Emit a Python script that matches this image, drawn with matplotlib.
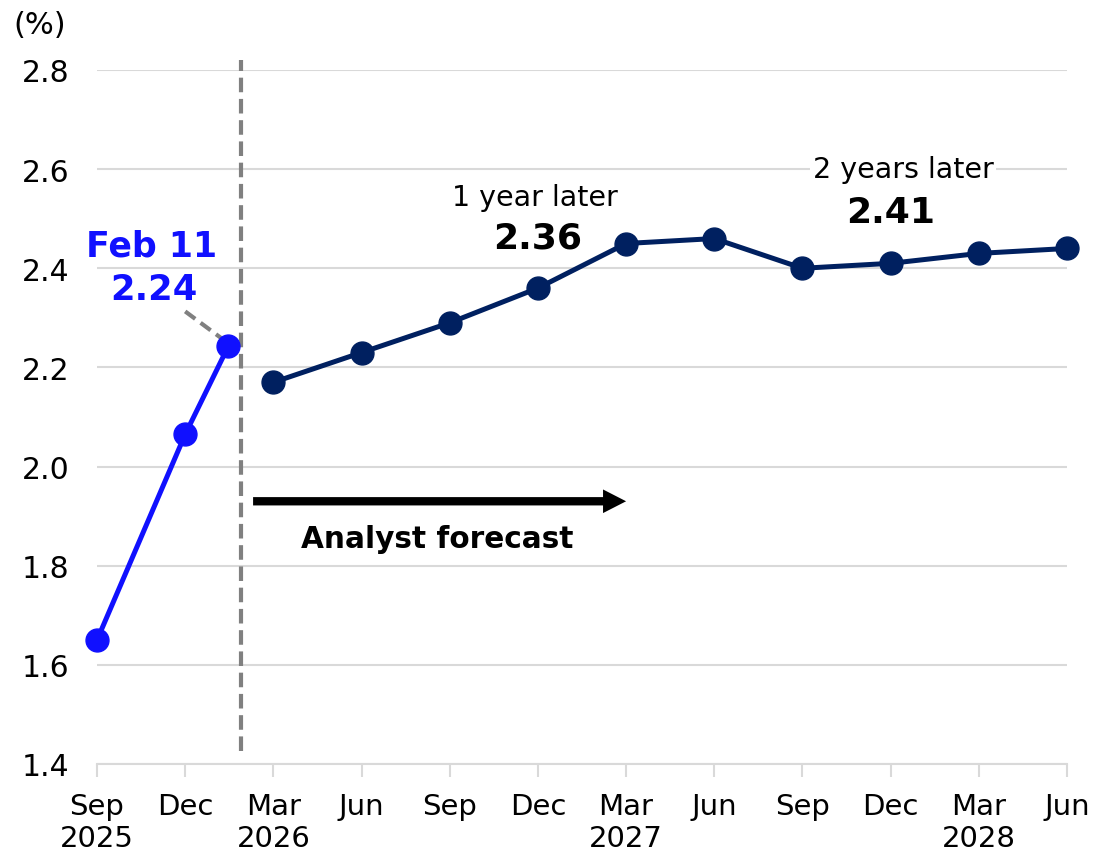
import matplotlib
matplotlib.use("Agg")
import matplotlib.pyplot as plt
from matplotlib.patches import FancyArrowPatch

# Data
actual_x = [0, 1, 1.49]
actual_y = [1.65, 2.065, 2.243]
forecast_x = [2, 3, 4, 5, 6, 7, 8, 9, 10, 11]
forecast_y = [2.17, 2.23, 2.29, 2.36, 2.45, 2.46, 2.40, 2.41, 2.43, 2.44]
tick_pos = list(range(12))
tick_labels = ["Sep\n2025", "Dec", "Mar\n2026", "Jun", "Sep", "Dec",
               "Mar\n2027", "Jun", "Sep", "Dec", "Mar\n2028", "Jun"]
y_ticks = [1.4, 1.6, 1.8, 2.0, 2.2, 2.4, 2.6, 2.8]

BLUE = "#1010ff"
NAVY = "#002060"
GRID = "#d9d9d9"

plt.rcParams['font.family'] = ['DejaVu Sans']

fig = plt.figure(figsize=(10.94, 8.54), dpi=100)
ax = fig.add_axes([97/1094, 1-765/854, (1067-97)/1094, (765-71)/854])
ax.set_xlim(0, 11)
ax.set_ylim(1.4, 2.8)

ax.set_yticks(y_ticks)
ax.set_yticklabels([f"{v:.1f}" for v in y_ticks], fontsize=21.5)
ax.set_xticks(tick_pos)
ax.set_xticklabels(tick_labels, fontsize=21, linespacing=1.2)
ax.tick_params(axis='y', length=0, pad=20)
ax.tick_params(axis='x', length=9, width=1.5, color=GRID, pad=11)
for s in ['left', 'right', 'top']:
    ax.spines[s].set_visible(False)
ax.spines['bottom'].set_color(GRID)
ax.spines['bottom'].set_linewidth(1.5)
ax.grid(axis='y', color=GRID, linewidth=1.5)
ax.set_axisbelow(True)

# vertical dashed divider
ax.axvline(1.635, ymin=0.0187, ymax=1.0144, color="#808080", linewidth=3,
           linestyle=(0, (3.5, 1.6)), clip_on=False, zorder=2)

# leader line
ax.plot([1.0, 1.44], [2.313, 2.255], color="#808080", linewidth=3,
        linestyle=(0, (3.0, 1.6)), zorder=2)

ax.plot(actual_x, actual_y, color=BLUE, linewidth=3.6, marker='o',
        markersize=16.5, clip_on=False, zorder=4)
ax.plot(forecast_x, forecast_y, color=NAVY, linewidth=3.6, marker='o',
        markersize=16.5, clip_on=False, zorder=4)

# arrow
arr = FancyArrowPatch((1.77, 1.93), (6.0, 1.93),
                      arrowstyle="simple,head_length=0.83,head_width=0.85,tail_width=0.3",
                      mutation_scale=20, color="black", linewidth=0,
                      shrinkA=0, shrinkB=0, zorder=3)
ax.add_patch(arr)
ax.text(3.86, 1.854, "Analyst forecast", fontsize=21.3, fontweight='bold',
        ha='center', va='center')

ax.text(0.62, 2.445, "Feb 11", fontsize=25, fontweight='bold', color=BLUE,
        ha='center', va='center')
ax.text(0.64, 2.358, "2.24", fontsize=25.5, fontweight='bold', color=BLUE,
        ha='center', va='center')

ax.text(4.97, 2.544, "1 year later", fontsize=20.5, ha='center', va='center')
ax.text(5.0, 2.463, "2.36", fontsize=26, fontweight='bold', ha='center', va='center')

ax.text(9.14, 2.60, "2 years later", fontsize=20.5, ha='center', va='center',
        bbox=dict(facecolor='white', edgecolor='none', pad=2))
ax.text(9.0, 2.514, "2.41", fontsize=26, fontweight='bold', ha='center', va='center')

fig.text(40/1094, 1-25/854, "(%)", fontsize=22, ha='center', va='center')

fig.savefig("out.png", dpi=100)
